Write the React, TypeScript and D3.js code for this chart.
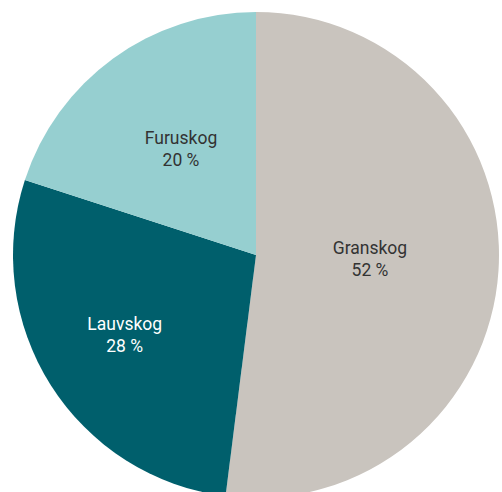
import * as d3 from "d3"

const categories = ["Granskog", "Lauvskog", "Furuskog"]
const shares = [52, 28, 20]
const colors = ["#c9c4be", "#005f6c", "#96cfd0"]
const textColors = ["#333333", "#ffffff", "#333333"]
// label distance from centre, as a fraction of the radius
const labelFrac = [0.47, 0.64, 0.525]

const W = 502
const H = 492
const cx = 256
const cy = 255
const R = 243

export default function App() {
  const pie = d3.pie<number>().sort(null).value((d) => d)
  const arcs = pie(shares)
  const arc = d3.arc<d3.PieArcDatum<number>>().innerRadius(0).outerRadius(R)

  return (
    <svg width={W} height={H} style={{ position: "absolute", left: 0, top: 0, fontFamily: "Roboto, sans-serif" }}>
      <g transform={`translate(${cx},${cy})`}>
        {arcs.map((a, i) => (
          <path key={categories[i]} d={arc(a) ?? ""} fill={colors[i]} />
        ))}
        {arcs.map((a, i) => {
          const mid = (a.startAngle + a.endAngle) / 2
          const r = R * labelFrac[i]
          const x = Math.sin(mid) * r
          const y = -Math.cos(mid) * r
          return (
            <text key={categories[i]} x={x} y={y} textAnchor="middle" fontSize={17.5} fill={textColors[i]}>
              <tspan x={x} dy={-8}>{categories[i]}</tspan>
              <tspan x={x} dy={22}>{shares[i]} %</tspan>
            </text>
          )
        })}
      </g>
    </svg>
  )
}
